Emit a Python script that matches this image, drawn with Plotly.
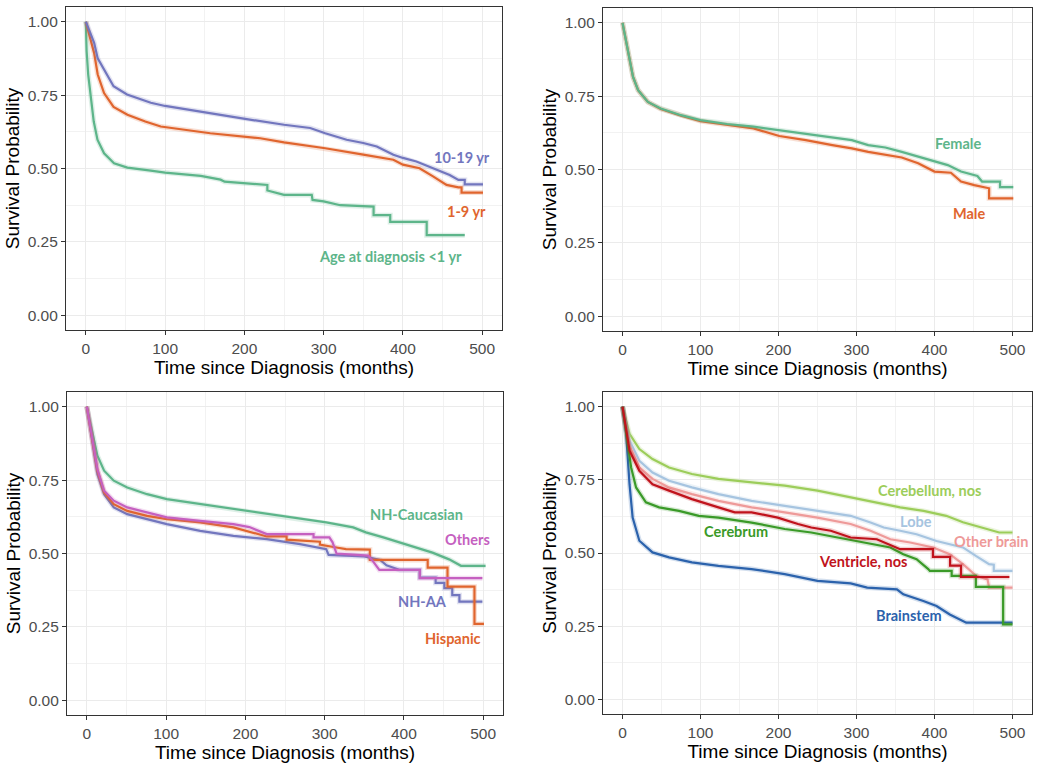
import plotly.graph_objects as go

# ---------------- Data ----------------
# Panel 1: Age at diagnosis
age_10_19_t = [0, 5, 10.5, 15, 23, 35, 52, 82, 100, 145, 201, 250, 283, 302, 329, 350, 367, 388, 400, 417, 438, 459, 470, 478, 478, 501]
age_10_19_s = [1.0, 0.965, 0.928, 0.875, 0.835, 0.78, 0.752, 0.724, 0.713, 0.693, 0.669, 0.649, 0.638, 0.62, 0.598, 0.587, 0.575, 0.547, 0.536, 0.524, 0.501, 0.478, 0.461, 0.461, 0.446, 0.446]
age_1_9_t = [0, 5, 10.5, 15, 23, 35, 52.5, 75, 94.5, 157, 220, 250, 302, 350, 388, 400, 421, 438, 455, 470, 474, 474, 501]
age_1_9_s = [1.0, 0.95, 0.893, 0.82, 0.757, 0.71, 0.683, 0.66, 0.643, 0.62, 0.603, 0.589, 0.569, 0.547, 0.53, 0.513, 0.501, 0.473, 0.444, 0.436, 0.436, 0.418, 0.418]
age_lt1_t = [0, 1, 3, 6.3, 10, 14.7, 23, 35.6, 52.4, 82, 100, 145, 170, 175, 200, 229, 229, 250, 285, 286, 300, 321, 363, 363, 384, 384, 430, 430, 478]
age_lt1_s = [1.0, 0.9, 0.82, 0.746, 0.66, 0.598, 0.552, 0.518, 0.503, 0.493, 0.486, 0.475, 0.462, 0.455, 0.45, 0.444, 0.425, 0.41, 0.41, 0.393, 0.388, 0.375, 0.37, 0.341, 0.341, 0.318, 0.318, 0.273, 0.273]

# Panel 2: Sex
female_t = [0, 7, 13.5, 20, 32.5, 49, 75, 100, 134, 168, 201, 235, 269, 294, 315, 337, 358, 379, 400, 417, 434, 455, 461, 484, 484, 501]
female_s = [1.0, 0.906, 0.815, 0.77, 0.73, 0.708, 0.685, 0.668, 0.655, 0.646, 0.634, 0.623, 0.611, 0.6, 0.583, 0.575, 0.56, 0.544, 0.53, 0.515, 0.493, 0.478, 0.459, 0.459, 0.44, 0.44]
male_t = [0, 7, 13.5, 20, 32.5, 49, 75, 100, 134, 168, 201, 235, 269, 294, 315, 337, 358, 379, 400, 421, 434, 451, 468, 470, 470, 501]
male_s = [1.0, 0.906, 0.815, 0.77, 0.73, 0.706, 0.683, 0.665, 0.652, 0.64, 0.614, 0.6, 0.583, 0.572, 0.56, 0.549, 0.541, 0.521, 0.493, 0.489, 0.459, 0.447, 0.436, 0.436, 0.402, 0.402]

# Panel 3: Race / ethnicity
cauc_t = [0, 7, 13.4, 21.8, 34, 51, 76, 101, 143, 185, 227, 269, 302, 336, 352, 374, 394, 415, 436, 457, 472, 503]
cauc_s = [1.0, 0.907, 0.833, 0.782, 0.748, 0.725, 0.702, 0.685, 0.668, 0.651, 0.634, 0.617, 0.606, 0.589, 0.572, 0.555, 0.538, 0.52, 0.503, 0.48, 0.458, 0.458]
nhaa_t = [0, 7, 13.4, 21.8, 34, 51, 76, 101, 143, 185, 227, 269, 302, 305, 350, 370, 378, 395, 420, 420, 440, 440, 451, 451, 461, 461, 470, 470, 499]
nhaa_s = [1.0, 0.884, 0.77, 0.702, 0.657, 0.634, 0.617, 0.6, 0.577, 0.56, 0.549, 0.532, 0.515, 0.495, 0.49, 0.478, 0.46, 0.444, 0.444, 0.418, 0.418, 0.4, 0.4, 0.382, 0.382, 0.358, 0.358, 0.336, 0.336]
others_t = [0, 7, 13.4, 21.8, 34, 51, 76, 101, 143, 185, 205, 215, 227, 286, 286, 306, 310, 315, 355, 362, 369, 420, 420, 499]
others_s = [1.0, 0.895, 0.787, 0.714, 0.68, 0.657, 0.64, 0.623, 0.611, 0.6, 0.59, 0.578, 0.566, 0.566, 0.555, 0.555, 0.538, 0.5, 0.493, 0.47, 0.444, 0.444, 0.416, 0.416]
hisp_t = [0, 7, 13.4, 21.8, 34, 51, 76, 101, 143, 185, 210, 227, 252, 252, 294, 294, 311, 327, 357, 357, 430, 430, 455, 455, 489, 489, 501]
hisp_s = [1.0, 0.89, 0.782, 0.708, 0.668, 0.645, 0.628, 0.617, 0.606, 0.589, 0.572, 0.558, 0.558, 0.547, 0.54, 0.53, 0.522, 0.515, 0.513, 0.478, 0.478, 0.452, 0.452, 0.387, 0.387, 0.26, 0.26]

# Panel 4: Tumor site
cereb_nos_t = [0, 9, 21.6, 38.5, 59.7, 89, 123, 165.5, 208, 250, 292.5, 326, 356, 386, 415, 436.5, 462, 483, 500]
cereb_nos_s = [1.0, 0.907, 0.855, 0.821, 0.792, 0.77, 0.753, 0.741, 0.73, 0.713, 0.69, 0.673, 0.656, 0.644, 0.627, 0.605, 0.587, 0.57, 0.57]
lobe_t = [0, 9, 21.6, 38.5, 59.7, 89, 123, 165.5, 208, 250, 292.5, 318, 335, 356, 377, 402.6, 436.5, 453, 470, 476, 476, 500]
lobe_s = [1.0, 0.884, 0.815, 0.775, 0.747, 0.724, 0.701, 0.678, 0.661, 0.644, 0.627, 0.604, 0.587, 0.576, 0.564, 0.541, 0.519, 0.49, 0.462, 0.46, 0.439, 0.439]
other_brain_t = [0, 9, 21.6, 38.5, 59.7, 89, 123, 165.5, 208, 250, 292.5, 318, 343.4, 368.8, 398.4, 419.6, 436.5, 453.4, 468, 470, 500]
other_brain_s = [1.0, 0.867, 0.793, 0.753, 0.724, 0.701, 0.678, 0.656, 0.639, 0.621, 0.599, 0.576, 0.547, 0.536, 0.519, 0.496, 0.462, 0.422, 0.41, 0.382, 0.382]
ventricle_t = [0, 9, 21.6, 38.5, 59.7, 89, 123, 144, 165.5, 199, 225, 242, 267, 292.5, 326, 347.6, 356, 398, 398, 420, 420, 434, 434, 496]
ventricle_s = [1.0, 0.85, 0.781, 0.735, 0.713, 0.684, 0.656, 0.639, 0.639, 0.621, 0.599, 0.587, 0.576, 0.553, 0.547, 0.524, 0.513, 0.513, 0.487, 0.487, 0.457, 0.457, 0.418, 0.418]
cerebrum_t = [0, 4.7, 11, 17.4, 30, 47, 72.4, 97.8, 123, 165.5, 208, 242, 275.6, 310, 343.4, 360, 377, 392, 394, 422, 422, 453, 453, 488, 488, 500]
cerebrum_s = [1.0, 0.907, 0.793, 0.724, 0.673, 0.656, 0.644, 0.627, 0.621, 0.604, 0.582, 0.57, 0.553, 0.536, 0.519, 0.496, 0.479, 0.445, 0.439, 0.439, 0.422, 0.422, 0.384, 0.384, 0.256, 0.256]
brainstem_t = [0, 4.7, 9, 13, 21.6, 38.5, 59.7, 89, 123, 165.5, 208, 250, 292.5, 313.7, 351.8, 360, 385.7, 402.6, 419.6, 436.5, 440.7, 500]
brainstem_s = [1.0, 0.907, 0.735, 0.621, 0.542, 0.502, 0.485, 0.468, 0.456, 0.445, 0.428, 0.405, 0.396, 0.382, 0.376, 0.359, 0.336, 0.319, 0.29, 0.268, 0.262, 0.262]

x_ticks = [0, 100, 200, 300, 400, 500]
y_ticks = [0.0, 0.25, 0.5, 0.75, 1.0]
y_ticklabels = ["0.00", "0.25", "0.50", "0.75", "1.00"]

# ---------------- Styling ----------------
C_PURPLE = "#7276BE"
C_ORANGE = "#E0652E"
C_GREEN = "#5DB58A"
C_MAGENTA = "#C560C0"
C_LGREEN = "#9CCD5A"
C_LBLUE = "#A6C4E0"
C_PINK = "#EE9A99"
C_RED = "#C0131C"
C_DGREEN = "#3A9A28"
C_BLUE = "#2B62AC"

panels = [
    (1, [(age_lt1_t, age_lt1_s, C_GREEN), (age_1_9_t, age_1_9_s, C_ORANGE), (age_10_19_t, age_10_19_s, C_PURPLE)],
     [("10-19 yr", 475, 0.536, C_PURPLE), ("1-9 yr", 480, 0.352, C_ORANGE), ("Age at diagnosis <1 yr", 384, 0.201, C_GREEN)]),
    (2, [(male_t, male_s, C_ORANGE), (female_t, female_s, C_GREEN)],
     [("Female", 430, 0.59, C_GREEN), ("Male", 444, 0.349, C_ORANGE)]),
    (3, [(cauc_t, cauc_s, C_GREEN), (nhaa_t, nhaa_s, C_PURPLE), (hisp_t, hisp_s, C_ORANGE), (others_t, others_s, C_MAGENTA)],
     [("NH-Caucasian", 416, 0.632, C_GREEN), ("Others", 480, 0.547, C_MAGENTA), ("NH-AA", 423, 0.335, C_PURPLE), ("Hispanic", 462, 0.212, C_ORANGE)]),
    (4, [(cereb_nos_t, cereb_nos_s, C_LGREEN), (lobe_t, lobe_s, C_LBLUE), (other_brain_t, other_brain_s, C_PINK),
         (brainstem_t, brainstem_s, C_BLUE), (cerebrum_t, cerebrum_s, C_DGREEN), (ventricle_t, ventricle_s, C_RED)],
     [("Cerebellum, nos", 394, 0.715, C_LGREEN), ("Lobe", 376, 0.607, C_LBLUE), ("Other brain", 472, 0.539, C_PINK),
      ("Ventricle, nos", 308, 0.471, C_RED), ("Cerebrum", 145, 0.572, C_DGREEN), ("Brainstem", 367, 0.285, C_BLUE)]),
]

W, H = 1050, 768
boxes = {  # left, right, top, bottom in pixels
    1: (66, 502, 7, 330),
    2: (603, 1032, 8, 331),
    3: (67, 503, 392, 715),
    4: (603, 1032, 392, 714),
}

AXFONT = "Liberation Sans, Arial, sans-serif"
fig = go.Figure()
annotations = []
layout = {}
for idx, series, labels in panels:
    xa = "x" if idx == 1 else f"x{idx}"
    ya = "y" if idx == 1 else f"y{idx}"
    for t, s, col in series:
        # faint confidence-band look
        fig.add_trace(go.Scatter(x=t, y=s, xaxis=xa, yaxis=ya, mode="lines",
                                 line=dict(color=col, width=5, shape="linear"), opacity=0.2,
                                 showlegend=False, hoverinfo="skip"))
        fig.add_trace(go.Scatter(x=t, y=s, xaxis=xa, yaxis=ya, mode="lines",
                                 line=dict(color=col, width=2.2, shape="linear"),
                                 showlegend=False))
    for txt, lx, ly, col in labels:
        annotations.append(dict(text=txt, x=lx, y=ly, xref=xa, yref=ya, showarrow=False,
                                font=dict(family="Lato", size=14.5, color=col, weight="bold")))
    l, r, t_, b = boxes[idx]
    xname = "xaxis" if idx == 1 else f"xaxis{idx}"
    yname = "yaxis" if idx == 1 else f"yaxis{idx}"
    layout[xname] = dict(
        domain=[l / W, r / W], anchor=ya, range=[-25, 525],
        tickvals=x_ticks, ticks="outside", ticklen=4, tickcolor="#333333",
        tickfont=dict(family=AXFONT, size=15.5, color="#4D4D4D"),
        showgrid=True, gridcolor="#EBEBEB", gridwidth=1.2,
        minor=dict(dtick=50, tick0=0, showgrid=True, gridcolor="#F2F2F2", gridwidth=0.8, ticks=""),
        showline=True, mirror=True, linecolor="#333333", linewidth=1.2, zeroline=False,
        title=dict(text="Time since Diagnosis (months)", standoff=4,
                   font=dict(family=AXFONT, size=19, color="#000000")),
    )
    layout[yname] = dict(
        domain=[1 - b / H, 1 - t_ / H], anchor=xa, range=[-0.05, 1.05],
        tickvals=y_ticks, ticktext=y_ticklabels, ticks="outside", ticklen=4, tickcolor="#333333",
        tickfont=dict(family=AXFONT, size=15.5, color="#4D4D4D"),
        showgrid=True, gridcolor="#EBEBEB", gridwidth=1.2,
        minor=dict(dtick=0.125, tick0=0, showgrid=True, gridcolor="#F2F2F2", gridwidth=0.8, ticks=""),
        showline=True, mirror=True, linecolor="#333333", linewidth=1.2, zeroline=False,
        title=dict(text="Survival Probability", standoff=2,
                   font=dict(family=AXFONT, size=19, color="#000000")),
    )

fig.update_layout(
    width=W, height=H, margin=dict(l=0, r=0, t=0, b=0),
    paper_bgcolor="white", plot_bgcolor="white",
    annotations=annotations, showlegend=False,
    **layout,
)

fig.write_html("out.html", config={"displayModeBar": False},
               post_script="document.body.style.margin='0px';document.body.style.overflow='hidden';")
